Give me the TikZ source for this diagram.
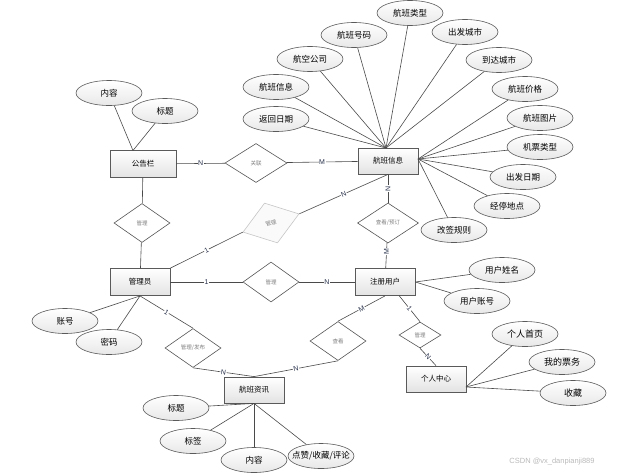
\documentclass[tikz,border=0pt]{standalone}
\usepackage{fontspec}
\setmainfont{Noto Sans CJK SC}
\newfontfamily\latinfont{Liberation Sans}
\usetikzlibrary{shapes.geometric,shadows}
\definecolor{linec}{HTML}{4A4A4A}
\definecolor{entc}{HTML}{5A5A5A}
\definecolor{relc}{HTML}{555555}
\definecolor{cardc}{HTML}{27304A}
\begin{document}
\begin{tikzpicture}[x=1pt,y=-1pt,
  line/.style={draw=linec, line width=0.6pt},
  ent/.style={rectangle, draw=entc, line width=0.8pt, top color=white, bottom color=gray!22,
    minimum width=60pt, minimum height=26pt, inner sep=1pt, font=\fontsize{7.5}{8}\selectfont,
    drop shadow={shadow xshift=0.8pt, shadow yshift=-0.8pt, opacity=0.25}},
  attr/.style={ellipse, draw=entc, line width=0.6pt, top color=white, bottom color=gray!18,
    minimum width=66pt, minimum height=25pt, inner sep=0pt, font=\fontsize{8.5}{9}\selectfont},
  attrb/.style={attr, font=\fontsize{9}{10}\selectfont},
  rel/.style={diamond, draw=relc, line width=0.6pt, fill=white, minimum width=56pt,
    minimum height=39pt, inner sep=0pt, font=\fontsize{5.5}{6}\selectfont, text=gray},
  card/.style={font=\latinfont\fontsize{7}{8}\selectfont, inner sep=0.6pt, fill=white, text=cardc},
]
\useasboundingbox (0,0) rectangle (626,474);

% entities
\node[ent, minimum width=66pt, minimum height=27pt] (gg) at (143,164) {公告栏};
\node[ent] (hb) at (388,161) {航班信息};
\node[ent, minimum height=27pt] (gly) at (140,282) {管理员};
\node[ent, minimum height=27pt] (zc) at (385,282) {注册用户};
\node[ent] (gr) at (436,379) {个人中心};
\node[ent] (zx) at (254,390) {航班资讯};

% relationships
\node[rel, minimum width=62pt] (gl) at (256,163) {关联};
\node[rel] (glL) at (142,223) {管理};
\node[rel, draw=gray!45, fill=gray!4, rotate=18, minimum width=59pt, minimum height=42pt] (tilt) at (271,223) {管理};
\node[rel, minimum width=61pt, minimum height=40pt] (cy) at (388,223) {查看/预订};
\node[rel, minimum height=40pt] (gl2) at (271,282) {管理};
\node[rel] (fb) at (193,348) {管理/发布};
\node[rel] (ck) at (338,341) {查看};
\node[rel, minimum width=42pt, minimum height=26pt] (gl3) at (420,335) {管理};

% attributes of 航班信息
\node[attr] (a1) at (410,13) {航班类型};
\node[attr] (a2) at (354,35) {航班号码};
\node[attr] (a3) at (465,32) {出发城市};
\node[attr] (a4) at (310,59) {航空公司};
\node[attr] (a5) at (499,60) {到达城市};
\node[attr] (a6) at (276,87) {航班信息};
\node[attr] (a7) at (276,119) {返回日期};
\node[attr] (a8) at (525,89) {航班价格};
\node[attr] (a9) at (540,118) {航班图片};
\node[attr] (a10) at (540,147) {机票类型};
\node[attr] (a11) at (523,177) {出发日期};
\node[attr] (a12) at (507,206) {经停地点};
\node[attr] (a13) at (454,230) {改签规则};
\coordinate (hbtop) at (386,148);
\coordinate (hbright) at (418,159);
\foreach \a in {a1,a2,a3,a4,a5,a6,a7} \draw[line] (\a) -- (hbtop);
\foreach \a in {a8,a9,a10,a11,a12,a13} \draw[line] (\a) -- (hbright);

% attributes of 公告栏
\node[attr] (b1) at (109,93) {内容};
\node[attr] (b2) at (165,111) {标题};
\coordinate (ggtop) at (133,150.5);
\draw[line] (b1) -- (ggtop);
\draw[line] (b2) -- (ggtop);

% attributes of 管理员
\node[attr] (c1) at (65,321) {账号};
\node[attr] (c2) at (109,342) {密码};
\draw[line] (c1) -- (gly.south);
\draw[line] (c2) -- (gly.south);

% attributes of 注册用户
\node[attr] (d1) at (502,270) {用户姓名};
\node[attr] (d2) at (477,301) {用户账号};
\draw[line] (d1) -- (zc.east);
\draw[line] (d2) -- (zc.east);

% attributes of 个人中心
\node[attrb] (e1) at (525,334) {个人首页};
\node[attrb] (e2) at (562,362) {我的票务};
\node[attrb] (e3) at (573,393) {收藏};
\coordinate (grr) at (466,387);
\foreach \a in {e1,e2,e3} \draw[line] (\a) -- (grr);

% attributes of 航班资讯
\node[attr] (f1) at (176,408) {标题};
\node[attr] (f2) at (193,441) {标签};
\node[attr] (f3) at (254,460) {内容};
\node[attr] (f4) at (321,456) {};
\node[font=\fontsize{8.5}{9}\selectfont, inner sep=0pt] (f4t) at (f4) {点赞/收藏/评论};
\foreach \a in {f1,f2,f3,f4} \draw[line] (\a) -- (zx.south);

% relationship connectors
\draw[line] (gg) -- node[card]{N} (gl);
\draw[line] (gl) -- node[card]{M} (hb);
\draw[line] (gg) -- (glL);
\draw[line] (glL) -- (gly);
\draw[line] (gly.north east) -- node[card, sloped]{1} (tilt.west);
\draw[line] (tilt.east) -- node[card, sloped]{N} (hb.south);
\draw[line] (hb) -- node[card, rotate=90]{N} (cy);
\draw[line] (cy) -- node[card, rotate=90, pos=0.35]{M} (zc);
\draw[line] (gly) -- node[card]{1} (gl2);
\draw[line] (gl2) -- node[card]{N} (zc);
\draw[line] (gly.south) -- node[card, sloped]{1} (fb.north);
\draw[line] (fb.south) -- node[card, sloped]{N} (zx.north);
\draw[line] (zc.south) -- node[card, sloped]{M} (ck.north);
\draw[line] (ck.south) -- node[card, sloped]{N} (zx.north);
\coordinate (zcs) at (399,295.5);
\draw[line] (zcs) -- node[card, sloped]{1} (gl3.north);
\draw[line] (gl3.south) -- node[card, sloped]{N} (gr.north);

% watermark
\node[text=gray!55, font=\latinfont\fontsize{7.5}{8}\selectfont] (wm) at (552,462) {CSDN @vx\_danpianji889};
\end{tikzpicture}
\end{document}
